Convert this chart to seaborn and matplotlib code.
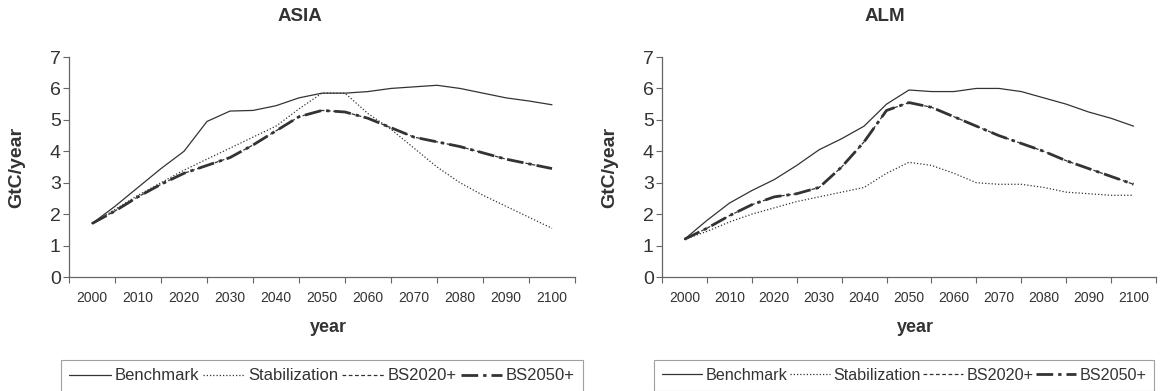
import matplotlib
matplotlib.use("Agg")
import matplotlib.pyplot as plt
from matplotlib import font_manager
import numpy as np
import pandas as pd
import seaborn as sns

# ---- data (GtC/year, 5-year steps) ----
years = list(range(2000, 2101, 5))
year_labels = [str(y) for y in range(2000, 2101, 10)]
scenarios = ["Benchmark", "Stabilization", "BS2020+", "BS2050+"]
regions = ["ASIA", "ALM"]

asia_benchmark = [1.70, 2.25, 2.85, 3.45, 4.00, 4.95, 5.28, 5.30, 5.45, 5.70, 5.85,
                  5.85, 5.90, 6.00, 6.05, 6.10, 6.00, 5.85, 5.70, 5.60, 5.48]
asia_stabilization = [1.70, 2.15, 2.60, 3.00, 3.40, 3.75, 4.10, 4.45, 4.80, 5.35, 5.85,
                      5.85, 5.20, 4.70, 4.10, 3.50, 3.00, 2.60, 2.25, 1.90, 1.55]
asia_bs2020 = [1.70, 2.10, 2.55, 2.95, 3.30, 3.55, 3.80, 4.20, 4.65, 5.10, 5.30,
               5.25, 5.05, 4.75, 4.45, 4.30, 4.15, 3.95, 3.75, 3.60, 3.45]
asia_bs2050 = [1.70, 2.10, 2.55, 2.95, 3.30, 3.55, 3.80, 4.20, 4.65, 5.10, 5.30,
               5.25, 5.05, 4.75, 4.45, 4.30, 4.15, 3.95, 3.75, 3.60, 3.45]

alm_benchmark = [1.20, 1.80, 2.35, 2.75, 3.10, 3.55, 4.05, 4.40, 4.80, 5.50, 5.95,
                 5.90, 5.90, 6.00, 6.00, 5.90, 5.70, 5.50, 5.25, 5.05, 4.80]
alm_stabilization = [1.20, 1.45, 1.75, 2.00, 2.20, 2.40, 2.55, 2.70, 2.85, 3.30, 3.65,
                     3.55, 3.30, 3.00, 2.95, 2.95, 2.85, 2.70, 2.65, 2.60, 2.60]
alm_bs2020 = [1.20, 1.55, 1.95, 2.30, 2.55, 2.65, 2.85, 3.50, 4.30, 5.30, 5.55,
              5.40, 5.10, 4.80, 4.50, 4.25, 4.00, 3.70, 3.45, 3.20, 2.95]
alm_bs2050 = [1.20, 1.55, 1.95, 2.30, 2.55, 2.65, 2.85, 3.50, 4.30, 5.30, 5.55,
              5.40, 5.10, 4.80, 4.50, 4.25, 4.00, 3.70, 3.45, 3.20, 2.95]

series = {
    "ASIA": [asia_benchmark, asia_stabilization, asia_bs2020, asia_bs2050],
    "ALM": [alm_benchmark, alm_stabilization, alm_bs2020, alm_bs2050],
}

rows = []
for reg in regions:
    for scen, vals in zip(scenarios, series[reg]):
        for yr, v in zip(years, vals):
            rows.append({"region": reg, "scenario": scen, "year": yr, "value": v})
df = pd.DataFrame(rows)

# ---- style ----
sns.set_theme(style="white")
installed = {f.name for f in font_manager.fontManager.ttflist}
base_font = "Liberation Sans" if "Liberation Sans" in installed else "DejaVu Sans"
plt.rcParams["font.family"] = [base_font, "DejaVu Sans"]

line_styles = {
    "Benchmark": dict(linestyle="-", lw=0.9),
    "Stabilization": dict(linestyle=(0, (1, 1.6)), lw=0.9),
    "BS2020+": dict(linestyle=(0, (3, 2)), lw=0.9),
    "BS2050+": dict(linestyle=(0, (6, 1.8, 1.2, 1.8)), lw=2.0),
}
ink = "#333333"
axis_col = "#666666"

W, H = 1162, 391
fig = plt.figure(figsize=(W / 100, H / 100), dpi=100)

panels = {
    "ASIA": dict(left=69, right=575, title_x=300, legend_size=12.0, colsp=0.25),
    "ALM": dict(left=662, right=1156, title_x=885, legend_size=11.6, colsp=0.15),
}
top_px, bottom_px = 57, 277

for reg in regions:
    p = panels[reg]
    w = p["right"] - p["left"]
    ax = fig.add_axes([p["left"] / W, 1 - bottom_px / H, w / W, (bottom_px - top_px) / H])
    sub = df[df["region"] == reg]
    for scen in scenarios:
        d = sub[sub["scenario"] == scen]
        sns.lineplot(data=d, x="year", y="value", ax=ax, color=ink, legend=False,
                     label=scen, **line_styles[scen])
    ax.set_xlim(1995, 2105)
    ax.set_ylim(0, 7)
    # year labels sit centred in their slots, tick marks at the slot edges
    ax.set_xticks(range(2000, 2101, 10))
    ax.set_xticklabels(year_labels)
    ax.set_xticks(np.arange(1995, 2106, 10), minor=True)
    ax.tick_params(axis="x", which="major", length=0, pad=10, labelsize=10, colors=ink)
    ax.tick_params(axis="x", which="minor", length=4, width=0.8, color=axis_col,
                   direction="out", bottom=True)
    ax.set_yticks(range(0, 8))
    ax.tick_params(axis="y", length=4, width=0.8, color=axis_col, direction="out",
                   labelsize=14, labelcolor=ink, pad=2, left=True)
    for s in ["top", "right"]:
        ax.spines[s].set_visible(False)
    for s in ["left", "bottom"]:
        ax.spines[s].set_color(axis_col)
        ax.spines[s].set_linewidth(0.9)

    ax.set_title(reg, fontsize=13.5, fontweight="bold", color=ink,
                 x=(p["title_x"] - p["left"]) / w, y=(bottom_px - 25) / (bottom_px - top_px),
                 va="center")
    ax.set_ylabel("GtC/year", fontsize=14, fontweight="bold", color=ink)
    ax.yaxis.set_label_coords(-44 / w, 0.5)
    ax.set_xlabel("year", fontsize=13, fontweight="bold", color=ink)
    ax.xaxis.set_label_coords(0.5 + 6 / w, -(328 - bottom_px) / (bottom_px - top_px))
    ax.xaxis.label.set_va("center")

    handles, labels = ax.get_legend_handles_labels()
    leg = fig.legend(handles, labels, loc="upper left", ncol=4,
                     bbox_to_anchor=((p["left"] - 8) / W, 1 - 360 / H),
                     prop={"family": base_font, "size": p["legend_size"]},
                     frameon=True, fancybox=False,
                     handlelength=2.5, handletextpad=0.2, columnspacing=p["colsp"],
                     borderpad=0.5, borderaxespad=0)
    leg.get_frame().set_edgecolor("#888888")
    leg.get_frame().set_linewidth(0.8)
    for t in leg.get_texts():
        t.set_color(ink)

fig.savefig("out.png", dpi=100, facecolor="white")
